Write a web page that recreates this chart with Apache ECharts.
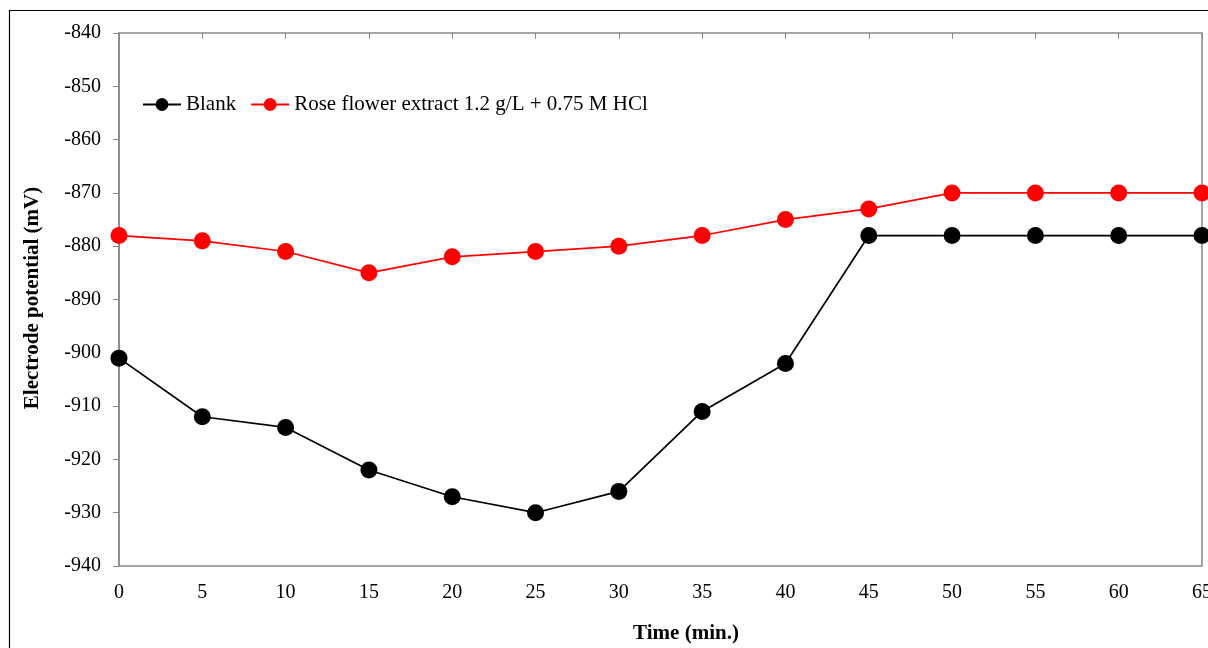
<!DOCTYPE html>
<html><head><meta charset="utf-8">
<script src="https://cdn.jsdelivr.net/npm/echarts@6/dist/echarts.min.js"></script>
<style>html,body{margin:0;padding:0;background:#fff}#c{width:1208px;height:648px}</style>
</head><body><div id="c"></div>
<script>
const times = [0, 5, 10, 15, 20, 25, 30, 35, 40, 45, 50, 55, 60, 65];
const blank = [-901, -912, -914, -922, -927, -930, -926, -911, -902, -878, -878, -878, -878, -878];
const rose = [-878, -879, -881, -885, -882, -881, -880, -878, -875, -873, -870, -870, -870, -870];
const seriesNames = ['Blank', 'Rose flower extract 1.2 g/L + 0.75 M HCl'];
const xTitle = 'Time (min.)';
const yTitle = 'Electrode potential (mV)';

const font = 'Liberation Serif, Times New Roman, serif';
const chart = echarts.init(document.getElementById('c'));
chart.setOption({
  animation: false,
  backgroundColor: '#fff',
  grid: { left: 119, top: 33, right: 6, bottom: 82, show: true, borderColor: '#888', borderWidth: 1.5, outerBoundsMode: 'none', containLabel: false },
  legend: {
    left: 137, top: 89, itemWidth: 38, itemHeight: 16, itemGap: 14,
    textStyle: { fontFamily: font, fontSize: 21, color: '#000' },
    data: seriesNames
  },
  xAxis: [{
    type: 'value', min: 0, max: 65, interval: 5, position: 'bottom',
    axisLine: { show: false }, axisTick: { show: false }, splitLine: { show: false },
    axisLabel: { fontFamily: font, fontSize: 20, color: '#000', margin: 17 }
  }, {
    type: 'value', min: 0, max: 65, interval: 5, position: 'top',
    axisLine: { show: false }, splitLine: { show: false },
    axisTick: { show: true, inside: true, length: 6, lineStyle: { color: '#888' } },
    axisLabel: { show: false }
  }],
  yAxis: {
    type: 'value', min: -940, max: -840, interval: 10,
    axisLine: { show: true, lineStyle: { color: '#888', width: 1.5 } },
    axisTick: { show: true, length: 6, lineStyle: { color: '#888' } },
    splitLine: { show: false },
    axisLabel: { fontFamily: font, fontSize: 20, color: '#000', margin: 18 }
  },
  graphic: [
    { type: 'rect', shape: { x: 9.5, y: 10.5, width: 1300, height: 700 }, style: { fill: 'none', stroke: '#000', lineWidth: 1.2 }, silent: true },
    { type: 'text', x: 686, y: 634, style: { text: xTitle, font: 'bold 21px ' + font, fill: '#000', textAlign: 'center', textVerticalAlign: 'middle' } },
    { type: 'text', x: 33, y: 298, rotation: Math.PI / 2, style: { text: yTitle, font: 'bold 21px ' + font, fill: '#000', textAlign: 'center', textVerticalAlign: 'middle' } }
  ],
  series: [{
    name: seriesNames[0], type: 'line', xAxisIndex: 0,
    data: times.map((t, i) => [t, blank[i]]),
    symbol: 'circle', symbolSize: 17,
    lineStyle: { color: '#000', width: 1.7 }, itemStyle: { color: '#000' }
  }, {
    name: seriesNames[1], type: 'line', xAxisIndex: 0,
    data: times.map((t, i) => [t, rose[i]]),
    symbol: 'circle', symbolSize: 17,
    lineStyle: { color: '#ff0000', width: 1.7 }, itemStyle: { color: '#ff0000' }
  }]
});
</script></body></html>
